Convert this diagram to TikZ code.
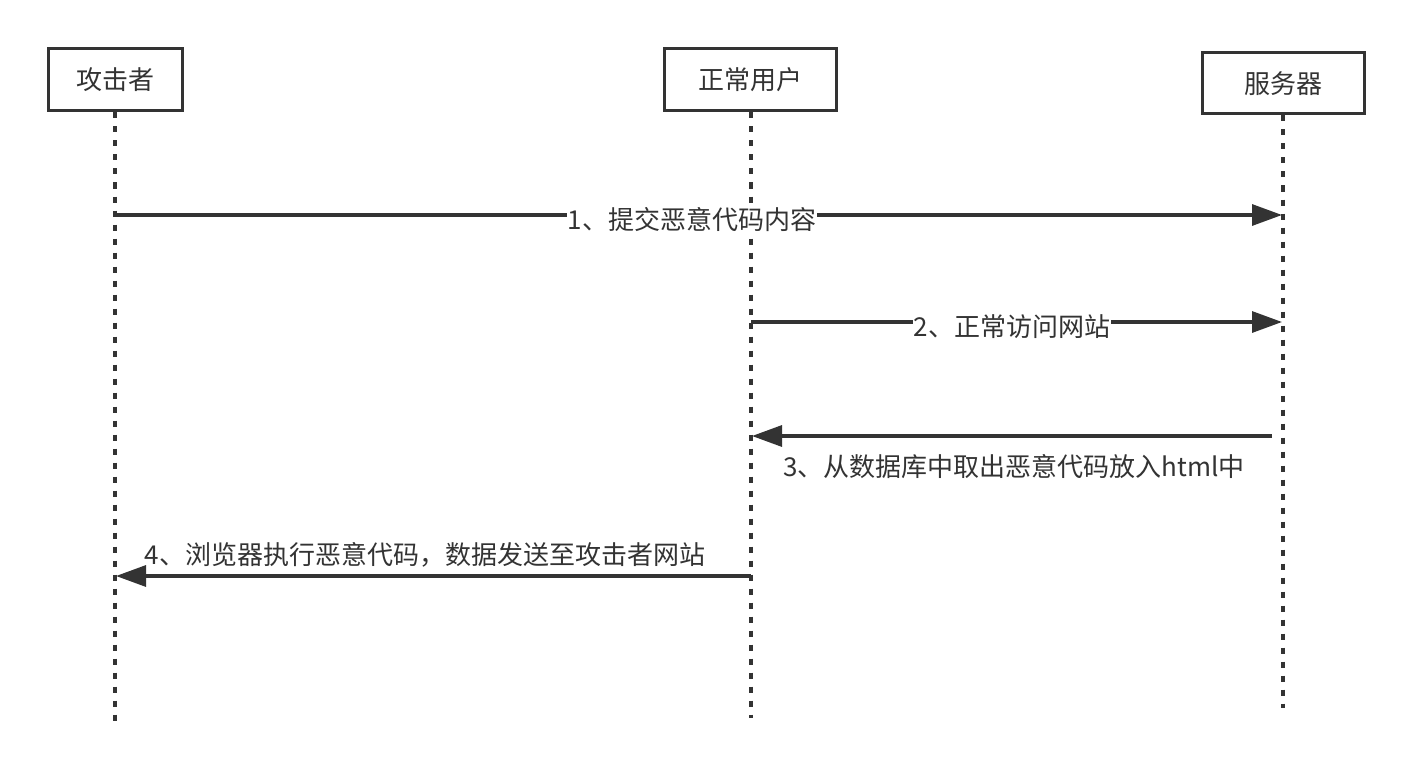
\documentclass[tikz,border=0pt]{standalone}
\usepackage{fontspec}
\setmainfont{Noto Sans CJK SC}
\usetikzlibrary{arrows.meta}
\definecolor{ink}{HTML}{333333}
\tikzset{
  actor/.style={draw=ink, line width=3pt, fill=white, inner sep=0pt, text=ink,
    font=\fontsize{26}{31}\selectfont},
  life/.style={draw=ink, line width=3.2pt, dash pattern=on 6pt off 8pt},
  msg/.style={draw=ink, line width=3.2pt, -{Triangle[length=30pt,width=21pt]}},
  lbl/.style={text=ink, font=\fontsize{26}{31}\selectfont, inner sep=1pt}
}
\begin{document}
\begin{tikzpicture}[x=1pt,y=-1pt]
\useasboundingbox (0,0) rectangle (1412,778);
% actors
\node[actor, minimum width=134pt, minimum height=62pt] (A) at (115,80) {攻击者};
\node[actor, minimum width=172pt, minimum height=62pt] (U) at (750,80) {正常用户};
\node[actor, minimum width=162pt, minimum height=61pt] (S) at (1283,83.5) {服务器};
% lifeline ends
\coordinate (Aend) at (115,728);
\coordinate (Uend) at (751,718);
\coordinate (Send) at (1283,708);
\draw[life] (A.south -| Aend) -- (Aend);
\draw[life] (U.south -| Uend) -- (Uend);
\draw[life] (S.south -| Send) -- (Send);
% message endpoints
\coordinate (a1) at (115,215);
\coordinate (s1) at (1282,215);
\coordinate (u2) at (751,322);
\coordinate (s2) at (1282,322);
\coordinate (s3) at (1272,436);
\coordinate (u3) at (752,436);
\coordinate (u4) at (751,576);
\coordinate (a4) at (116,576);
% messages
\draw[msg] (a1) -- (s1);
\node[lbl, fill=white] (l1) at (692,220) {1、提交恶意代码内容};
\draw[msg] (u2) -- (s2);
\node[lbl, fill=white] (l2) at (1012,327) {2、正常访问网站};
\draw[msg] (s3) -- (u3);
\node[lbl] (l3) at (1014,467) {3、从数据库中取出恶意代码放入html中};
\draw[msg] (u4) -- (a4);
\node[lbl] (l4) at (425,555) {4、浏览器执行恶意代码，数据发送至攻击者网站};
\end{tikzpicture}
\end{document}
